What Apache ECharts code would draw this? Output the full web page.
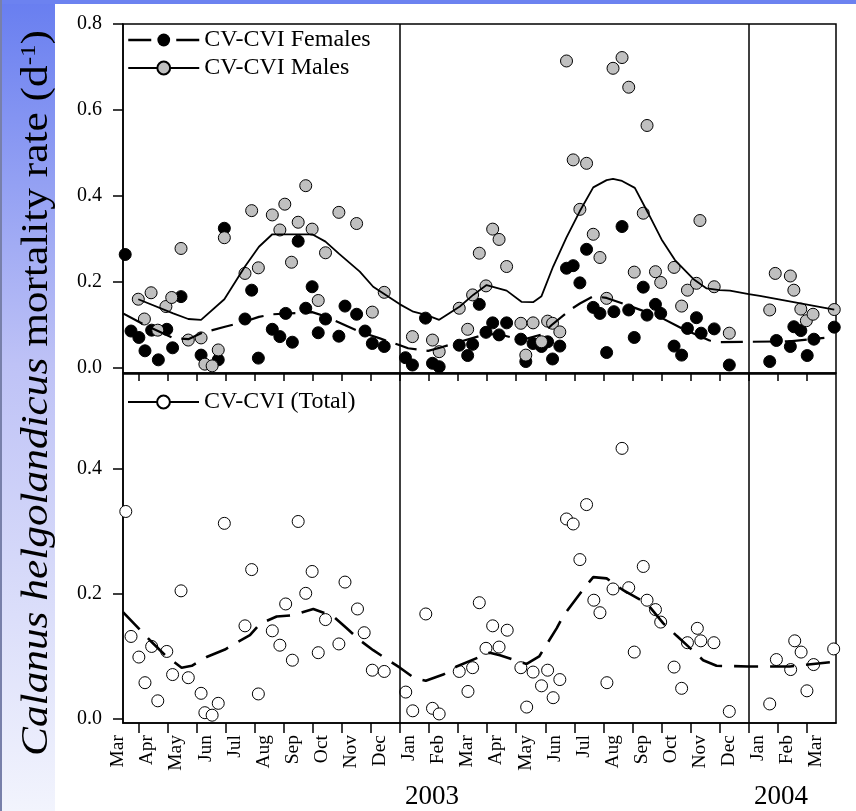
<!DOCTYPE html>
<html><head><meta charset="utf-8">
<script src="https://cdn.jsdelivr.net/npm/echarts@6/dist/echarts.min.js"></script>
<style>html,body{margin:0;padding:0;background:#fff}#c{width:856px;height:811px}</style>
</head><body><div id="c"></div>
<script>
// x values: months since 1 Jan 2002 (3 = Apr 2002, 12 = Jan 2003, 24 = Jan 2004)
const monthNames = ['Jan','Feb','Mar','Apr','May','Jun','Jul','Aug','Sep','Oct','Nov','Dec'];
const monthTicks = [3,4,5,6,7,8,9,10,11,12,13,14,15,16,17,18,19,20,21,22,23,24,25,26];
const yearBreaks = [12, 24];
const yearLabels = ['2003', '2004'];
const yTicksTop = [0, 0.2, 0.4, 0.6, 0.8];
const yTicksBottom = [0, 0.2, 0.4];
const legendNames = ['CV-CVI Females', 'CV-CVI Males', 'CV-CVI (Total)'];

const femalesPoints = [[2.55,0.264],[2.75,0.086],[3.02,0.071],[3.23,0.040],[3.46,0.088],[3.69,0.019],[3.98,0.090],[4.18,0.047],[4.47,0.166],[5.16,0.030],[5.75,0.019],[5.96,0.325],[6.67,0.114],[6.90,0.181],[7.13,0.023],[7.61,0.090],[7.87,0.073],[8.07,0.127],[8.30,0.060],[8.50,0.295],[8.76,0.139],[8.98,0.189],[9.19,0.082],[9.44,0.114],[9.90,0.074],[10.11,0.144],[10.51,0.125],[10.80,0.086],[11.05,0.057],[11.46,0.050],
[12.19,0.024],[12.43,0.007],[12.88,0.116],[13.12,0.011],[13.35,0.003],[14.04,0.053],[14.33,0.029],[14.50,0.055],[14.73,0.148],[14.96,0.083],[15.19,0.105],[15.41,0.077],[15.67,0.105],[16.16,0.067],[16.33,0.015],[16.58,0.057],[16.87,0.050],[17.08,0.061],[17.25,0.021],[17.50,0.051],[17.73,0.232],[17.96,0.238],[18.19,0.198],[18.42,0.276],[18.65,0.141],[18.88,0.127],[19.11,0.036],[19.36,0.131],[19.64,0.329],[19.87,0.135],[20.06,0.071],[20.37,0.188],[20.50,0.123],[20.79,0.148],[20.97,0.127],[21.43,0.051],[21.69,0.030],[21.89,0.092],[22.20,0.117],[22.36,0.081],[22.81,0.091],[23.33,0.007],
[24.72,0.015],[24.95,0.064],[25.43,0.050],[25.55,0.096],[25.79,0.087],[26.01,0.029],[26.24,0.067],[26.94,0.095]];

const malesPoints = [[3.00,0.160],[3.21,0.114],[3.44,0.175],[3.67,0.088],[3.95,0.143],[4.15,0.164],[4.47,0.278],[4.72,0.065],[5.16,0.070],[5.29,0.009],[5.54,0.005],[5.75,0.042],[5.96,0.303],[6.67,0.220],[6.90,0.366],[7.13,0.233],[7.61,0.356],[7.87,0.321],[8.04,0.381],[8.27,0.246],[8.50,0.339],[8.76,0.424],[8.98,0.323],[9.19,0.157],[9.44,0.268],[9.90,0.362],[10.51,0.336],[11.05,0.130],[11.46,0.176],
[12.43,0.073],[13.12,0.065],[13.35,0.038],[14.04,0.139],[14.33,0.090],[14.50,0.170],[14.73,0.267],[14.96,0.191],[15.19,0.323],[15.41,0.299],[15.67,0.236],[16.16,0.104],[16.33,0.030],[16.58,0.105],[16.87,0.061],[17.08,0.109],[17.25,0.104],[17.50,0.084],[17.73,0.714],[17.96,0.484],[18.19,0.369],[18.42,0.476],[18.65,0.311],[18.88,0.257],[19.11,0.162],[19.33,0.697],[19.64,0.722],[19.87,0.653],[20.06,0.223],[20.37,0.360],[20.50,0.564],[20.79,0.224],[20.97,0.199],[21.43,0.234],[21.69,0.144],[21.89,0.181],[22.20,0.197],[22.32,0.343],[22.81,0.189],[23.33,0.081],
[24.72,0.135],[24.91,0.220],[25.43,0.214],[25.55,0.181],[25.79,0.137],[25.98,0.110],[26.21,0.125],[26.94,0.136]];

const femalesTrend = [[2.474,0.127],[3.23,0.100],[4.20,0.070],[4.72,0.067],[5.16,0.081],[5.98,0.096],[6.67,0.108],[7.15,0.119],[7.64,0.125],[8.98,0.130],[9.48,0.119],[10.63,0.084],[11.31,0.069],[12.00,0.053],[12.28,0.046],[12.97,0.040],[13.37,0.047],[14.06,0.061],[14.98,0.079],[15.44,0.078],[16.18,0.065],[16.87,0.078],[17.22,0.100],[17.85,0.135],[18.19,0.150],[18.65,0.167],[19.11,0.163],[19.79,0.147],[20.93,0.119],[21.73,0.091],[22.65,0.064],[23.00,0.060],[24.00,0.061],[25.40,0.062],[26.60,0.070]];

const malesTrend = [[3.00,0.160],[4.20,0.127],[4.72,0.114],[5.16,0.112],[5.96,0.160],[6.67,0.236],[7.15,0.282],[7.61,0.311],[8.98,0.311],[9.44,0.294],[9.90,0.266],[10.62,0.224],[11.08,0.189],[12.00,0.148],[12.46,0.131],[12.92,0.123],[13.35,0.112],[14.06,0.143],[14.52,0.170],[14.98,0.193],[15.67,0.180],[16.18,0.154],[16.58,0.153],[16.87,0.167],[17.27,0.236],[17.73,0.304],[18.19,0.365],[18.65,0.420],[19.11,0.437],[19.33,0.440],[19.64,0.435],[20.08,0.419],[20.54,0.360],[21.00,0.299],[21.46,0.251],[22.09,0.207],[22.55,0.185],[23.00,0.181],[23.35,0.180],[24.00,0.172],[24.38,0.168],[26.94,0.136]];

const totalPoints = [[2.57,0.331],[2.75,0.131],[3.02,0.098],[3.23,0.057],[3.46,0.115],[3.67,0.028],[3.98,0.107],[4.18,0.070],[4.47,0.204],[4.72,0.065],[5.16,0.040],[5.29,0.009],[5.54,0.005],[5.75,0.024],[5.96,0.312],[6.67,0.148],[6.90,0.238],[7.13,0.039],[7.61,0.140],[7.87,0.117],[8.07,0.183],[8.30,0.093],[8.50,0.315],[8.76,0.200],[8.98,0.235],[9.19,0.105],[9.44,0.158],[9.90,0.119],[10.11,0.218],[10.54,0.175],[10.77,0.137],[11.05,0.077],[11.46,0.075],
[12.20,0.042],[12.44,0.012],[12.89,0.167],[13.12,0.016],[13.35,0.007],[14.04,0.075],[14.34,0.043],[14.50,0.081],[14.73,0.185],[14.96,0.112],[15.19,0.148],[15.41,0.114],[15.69,0.141],[16.16,0.081],[16.36,0.018],[16.58,0.074],[16.87,0.052],[17.08,0.077],[17.27,0.033],[17.50,0.062],[17.73,0.319],[17.96,0.311],[18.19,0.254],[18.42,0.342],[18.67,0.189],[18.88,0.169],[19.12,0.057],[19.33,0.207],[19.64,0.432],[19.87,0.209],[20.06,0.106],[20.37,0.243],[20.50,0.189],[20.79,0.174],[20.97,0.154],[21.43,0.082],[21.69,0.048],[21.89,0.121],[22.23,0.144],[22.35,0.124],[22.80,0.121],[23.33,0.011],
[24.72,0.023],[24.95,0.094],[25.44,0.078],[25.58,0.124],[25.80,0.106],[26.00,0.044],[26.23,0.086],[26.92,0.111]];

const totalTrend = [[2.474,0.170],[3.40,0.125],[3.92,0.101],[4.49,0.081],[4.84,0.084],[5.35,0.098],[5.98,0.110],[6.38,0.121],[6.84,0.133],[7.18,0.151],[7.76,0.163],[8.33,0.165],[9.02,0.175],[9.71,0.163],[10.17,0.144],[10.62,0.125],[11.08,0.109],[12.00,0.081],[12.51,0.064],[12.89,0.060],[13.49,0.070],[13.95,0.083],[15.09,0.105],[15.44,0.101],[16.36,0.087],[16.79,0.099],[17.39,0.144],[17.62,0.164],[18.30,0.206],[18.65,0.226],[19.11,0.224],[19.68,0.205],[20.49,0.184],[21.06,0.152],[21.52,0.132],[22.43,0.093],[22.89,0.084],[23.98,0.083],[25.41,0.083],[26.83,0.090]];

const FONT = '"Liberation Serif", "Times New Roman", serif';
const X_MIN = 2.474, X_MAX = 27;
const BLACK = '#000';
const GREY = '#c0c0c0';

const chart = echarts.init(document.getElementById('c'), null, {renderer: 'canvas'});

const axisLineStyle = {color: BLACK, width: 1.5};
function plotXAxis(gi, tickLen) {
  return {type: 'value', gridIndex: gi, min: X_MIN, max: X_MAX,
    axisLine: {show: true, onZero: false, lineStyle: axisLineStyle},
    axisTick: {show: true, customValues: monthTicks, length: tickLen, inside: false, lineStyle: axisLineStyle},
    axisLabel: {show: false}, splitLine: {show: false}};
}
function plotYAxis(gi, min, max, ticks) {
  return {type: 'value', gridIndex: gi, min: min, max: max,
    axisLine: {show: true, onZero: false, lineStyle: axisLineStyle},
    axisTick: {show: true, customValues: ticks, length: 10, lineStyle: axisLineStyle},
    axisLabel: {show: true, customValues: ticks, formatter: v => v.toFixed(1), margin: 21,
      fontFamily: FONT, fontSize: 20, color: BLACK},
    splitLine: {show: false}};
}
const vLines = {silent: true, symbol: ['none', 'none'], label: {show: false},
  lineStyle: {color: BLACK, width: 1.5, type: 'solid'}, animation: false,
  data: yearBreaks.map(v => ({xAxis: v}))};

const option = {
  animation: false,
  backgroundColor: '#fff',
  grid: [
    {left: 123, right: 20, top: 24, height: 349, show: true, borderColor: BLACK, borderWidth: 1.5},
    {left: 123, right: 20, top: 374, height: 349, show: true, borderColor: BLACK, borderWidth: 1.5},
    {left: 118.2, right: 10.7, top: 722, height: 1, show: false}
  ],
  xAxis: [
    plotXAxis(0, 8),
    plotXAxis(1, 10),
    {type: 'value', gridIndex: 2, min: 2, max: 27, interval: 1,
      axisLine: {show: false}, axisTick: {show: false}, splitLine: {show: false},
      axisLabel: {show: true, rotate: 90, margin: 12, fontFamily: FONT, fontSize: 19.5, color: BLACK,
        showMinLabel: true, showMaxLabel: true,
        formatter: v => (v <= 26 ? monthNames[Math.round(v) % 12] : '')}}
  ],
  yAxis: [
    plotYAxis(0, -0.0116, 0.8, yTicksTop),
    plotYAxis(1, -0.0075, 0.551, yTicksBottom),
    {type: 'value', gridIndex: 2, show: false, min: 0, max: 1}
  ],
  legend: [
    {left: 127, top: 28, orient: 'vertical', padding: 0, itemWidth: 71, itemHeight: 16, itemGap: 4,
      selectedMode: false,
      textStyle: {fontFamily: FONT, fontSize: 24, color: BLACK},
      data: [{name: legendNames[0], lineStyle: {type: [23, 25], width: 2.5}},
             {name: legendNames[1], lineStyle: {type: 'solid', width: 2}}]},
    {left: 127, top: 390, orient: 'vertical', padding: 0, itemWidth: 71, itemHeight: 16,
      selectedMode: false,
      textStyle: {fontFamily: FONT, fontSize: 24, color: BLACK},
      data: [{name: legendNames[2], lineStyle: {type: 'solid', width: 2}}]}
  ],
  graphic: [
    {type: 'rect', z: -10, shape: {x: 0, y: 0, width: 55, height: 811},
      style: {fill: new echarts.graphic.LinearGradient(0, 0, 0, 1, [
        {offset: 0, color: 'rgb(104,126,240)'},
        {offset: 0.45, color: 'rgb(190,194,246)'},
        {offset: 1, color: 'rgb(242,244,253)'}])}},
    {type: 'rect', z: -10, shape: {x: 0, y: 0, width: 856, height: 4},
      style: {fill: 'rgb(108,130,240)'}},
    {type: 'rect', z: -9, shape: {x: 0, y: 0, width: 2, height: 811},
      style: {fill: 'rgb(120,128,170)'}},
    {type: 'text', x: 37, y: 393, rotation: Math.PI / 2, scaleX: 1.14, scaleY: 1,
      style: {text: '{i|Calanus helgolandicus} mortality rate (d{s|-1})',
        fontFamily: FONT, fontSize: 38, fill: BLACK, align: 'center', verticalAlign: 'middle',
        rich: {i: {fontFamily: FONT, fontSize: 38, fontStyle: 'italic'},
               s: {fontFamily: FONT, fontSize: 22, verticalAlign: 'top'}}}},
    {type: 'text', x: 432, y: 797, style: {text: yearLabels[0], fontFamily: FONT, fontSize: 27, fill: BLACK, align: 'center', verticalAlign: 'middle'}},
    {type: 'text', x: 781, y: 797, style: {text: yearLabels[1], fontFamily: FONT, fontSize: 27, fill: BLACK, align: 'center', verticalAlign: 'middle'}}
  ],
  series: [
    {name: legendNames[0], type: 'line', xAxisIndex: 0, yAxisIndex: 0, data: femalesTrend, z: 4,
      symbol: 'circle', symbolSize: 12, showSymbol: false, smooth: false,
      itemStyle: {color: BLACK, opacity: 1},
      lineStyle: {color: BLACK, width: 2.2, type: [22, 10]}, markLine: vLines},
    {name: legendNames[1], type: 'line', xAxisIndex: 0, yAxisIndex: 0, data: malesTrend, z: 4,
      symbol: 'circle', symbolSize: 12, showSymbol: false, smooth: false,
      itemStyle: {color: GREY, borderColor: BLACK, borderWidth: 1, opacity: 1},
      lineStyle: {color: BLACK, width: 1.8, type: 'solid'}},
    {name: legendNames[0], type: 'scatter', xAxisIndex: 0, yAxisIndex: 0, data: femalesPoints, z: 2,
      symbol: 'circle', symbolSize: 12, itemStyle: {color: BLACK, borderColor: BLACK, borderWidth: 1, opacity: 1}},
    {name: legendNames[1], type: 'scatter', xAxisIndex: 0, yAxisIndex: 0, data: malesPoints, z: 3,
      symbol: 'circle', symbolSize: 12, itemStyle: {color: GREY, borderColor: BLACK, borderWidth: 1, opacity: 1}},
    {name: legendNames[2], type: 'line', xAxisIndex: 1, yAxisIndex: 1, data: totalTrend, z: 4,
      symbol: 'circle', symbolSize: 12, showSymbol: false, smooth: false,
      itemStyle: {color: '#fff', borderColor: BLACK, borderWidth: 1, opacity: 1},
      lineStyle: {color: BLACK, width: 2.6, type: [24, 12]}, markLine: vLines},
    {name: legendNames[2], type: 'scatter', xAxisIndex: 1, yAxisIndex: 1, data: totalPoints, z: 3,
      symbol: 'circle', symbolSize: 12, itemStyle: {color: '#fff', borderColor: BLACK, borderWidth: 1, opacity: 1}}
  ]
};
chart.setOption(option);
</script></body></html>
